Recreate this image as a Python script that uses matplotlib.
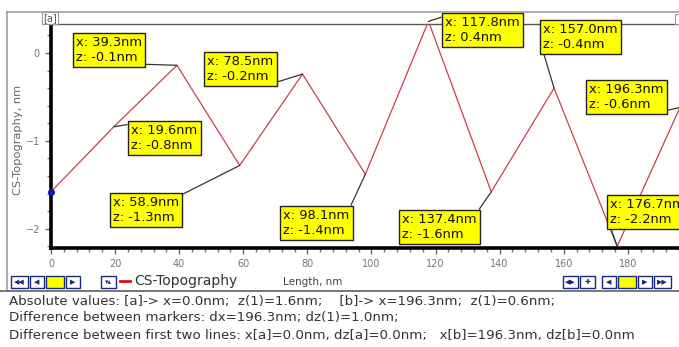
import matplotlib
matplotlib.use("Agg")
import matplotlib.pyplot as plt
from matplotlib.ticker import MultipleLocator
from matplotlib.patches import Rectangle
from matplotlib.lines import Line2D

# ---- data ----
x_nm = [0.0, 19.6, 39.3, 58.9, 78.5, 98.1, 117.8, 137.4, 157.0, 176.7, 196.3]
z_nm = [-1.58, -0.84, -0.14, -1.28, -0.24, -1.38, 0.36, -1.58, -0.40, -2.20, -0.62]
x_ticks = [0, 20, 40, 60, 80, 100, 120, 140, 160, 180]
y_ticks = [-2, -1, 0]
series_name = "CS-Topography"
x_label = "Length, nm"
y_label = "CS-Topography, nm"
info_lines = [
    "Absolute values: [a]-> x=0.0nm;  z(1)=1.6nm;    [b]-> x=196.3nm;  z(1)=0.6nm;",
    "Difference between markers: dx=196.3nm; dz(1)=1.0nm;",
    "Difference between first two lines: x[a]=0.0nm, dz[a]=0.0nm;   x[b]=196.3nm, dz[b]=0.0nm",
]

W, H = 679, 347
fig = plt.figure(figsize=(W / 100, H / 100), dpi=100)
fig.patch.set_facecolor("white")

def fx(p):
    return p / W

def fy(p):
    return 1 - p / H

FONT = "DejaVu Sans"

# frame lines (figure level)
fig.add_artist(Line2D([fx(7), fx(7)], [fy(12), fy(291)], color="#a0a0a0", lw=1.2))
fig.add_artist(Line2D([fx(7), 1], [fy(12), fy(12)], color="#a0a0a0", lw=1.2))
fig.add_artist(Line2D([0, 1], [fy(291), fy(291)], color="#606060", lw=1.2))

# main axes
left_px, right_px, top_px, bot_px = 51, 680, 24, 248
ax = fig.add_axes([fx(left_px), fy(bot_px), fx(right_px - left_px), (bot_px - top_px) / H])
ax.set_xlim(0, 196.3)
ax.set_ylim(-2.22, 0.33)
ax.plot(x_nm, z_nm, color="#c8404a", lw=0.9, zorder=3)
ax.plot([x_nm[0]], [z_nm[0]], "o", color="#1010c0", ms=4, zorder=5, clip_on=False)

ax.spines["right"].set_visible(False)
ax.spines["top"].set_color("#555555")
ax.spines["top"].set_linewidth(1.0)
ax.spines["left"].set_linewidth(2.6)
ax.spines["bottom"].set_linewidth(2.6)
ax.spines["left"].set_color("black")
ax.spines["bottom"].set_color("black")

ax.set_xticks(x_ticks)
ax.set_yticks(y_ticks)
ax.xaxis.set_minor_locator(MultipleLocator(4))
ax.yaxis.set_minor_locator(MultipleLocator(0.2))
ax.tick_params(axis="both", which="major", direction="out", length=4, width=1,
               color="#666666", labelcolor="#777777", labelsize=7, pad=4)
ax.tick_params(axis="both", which="minor", direction="out", length=3, width=1,
               color="#777777")
for lab in ax.get_xticklabels() + ax.get_yticklabels():
    lab.set_fontfamily(FONT)

fig.text(fx(18), fy(140), y_label, rotation=90, ha="center", va="center",
         fontsize=8.2, color="#666666", family=FONT)

# annotation boxes (layout: box top-left in pixels and leader corner)
box_layout = {
    19.6: (128, 121, (0, 1)),
    39.3: (73, 33, (1, 0)),
    58.9: (110, 193, (1, 1)),
    78.5: (204, 52, (1, 0)),
    98.1: (280, 206, (1, 1)),
    117.8: (442, 13, (0, 1)),
    137.4: (399, 210, (1, 1)),
    157.0: (540, 20, (0, 0)),
    176.7: (607, 195, (0, 0)),
    196.3: (586, 80, (1, 0)),
}
pad_px = 3
for xv, zv in zip(x_nm, z_nm):
    if xv not in box_layout:
        continue
    bl, bt, rp = box_layout[xv]
    txt = f"x: {xv:.1f}nm\nz: {zv:.1f}nm"
    ax.annotate(txt, xy=(xv, zv), xycoords="data",
                xytext=(bl + pad_px, H - bt - pad_px), textcoords="figure pixels",
                ha="left", va="top", fontsize=9.4, family=FONT, color="#111111",
                linespacing=1.22, annotation_clip=False,
                bbox=dict(boxstyle="square,pad=0.25", fc="#ffff00", ec="#222222", lw=1.0),
                arrowprops=dict(arrowstyle="-", color="#333333", lw=0.9,
                                shrinkA=0, shrinkB=0, relpos=rp),
                zorder=6)

# marker labels [a] / [b]
fig.text(fx(50), fy(18), "[a]", ha="center", va="center", fontsize=7, color="#555555",
         family=FONT, bbox=dict(boxstyle="square,pad=0.1", fc="white", ec="#999999", lw=0.8))
fig.add_artist(Rectangle((fx(675), fy(24)), fx(8), 10 / H, fc="white", ec="#999999", lw=0.8))

# toolbar row
def button(x0, w, fc="white"):
    fig.add_artist(Rectangle((fx(x0), fy(288)), fx(w), 12 / H, fc=fc, ec="#1a2a7a", lw=1.0))

def btn_text(x0, w, s):
    fig.text(fx(x0 + w / 2), fy(282), s, ha="center", va="center", fontsize=5,
             color="#1a2a7a", family=FONT)

button(11, 17); btn_text(11, 17, "◀◀")
button(30, 14); btn_text(30, 14, "◀")
button(46, 18, fc="#ffff00")
button(66, 14); btn_text(66, 14, "▶")
button(101, 15); btn_text(101, 15, "▾▴")
fig.add_artist(Line2D([fx(120), fx(130)], [fy(281), fy(281)], color="#e01010", lw=2))
fig.text(fx(134), fy(281), series_name, ha="left", va="center", fontsize=10,
         color="#333333", family=FONT)
fig.text(fx(313), fy(282), x_label, ha="center", va="center", fontsize=7.5,
         color="#444444", family=FONT)
button(563, 15); btn_text(563, 15, "◀▶")
button(580, 15); btn_text(580, 15, "✚")
button(602, 14); btn_text(602, 14, "◀")
button(618, 18, fc="#ffff00")
button(638, 14); btn_text(638, 14, "▶")
button(654, 17); btn_text(654, 17, "▶▶")

# info text lines
for i, line in enumerate(info_lines):
    fig.text(fx(9), fy(301 + 17 * i), line, ha="left", va="center", fontsize=9.6,
             color="#333333", family=FONT)

fig.savefig("out.png", dpi=100)
